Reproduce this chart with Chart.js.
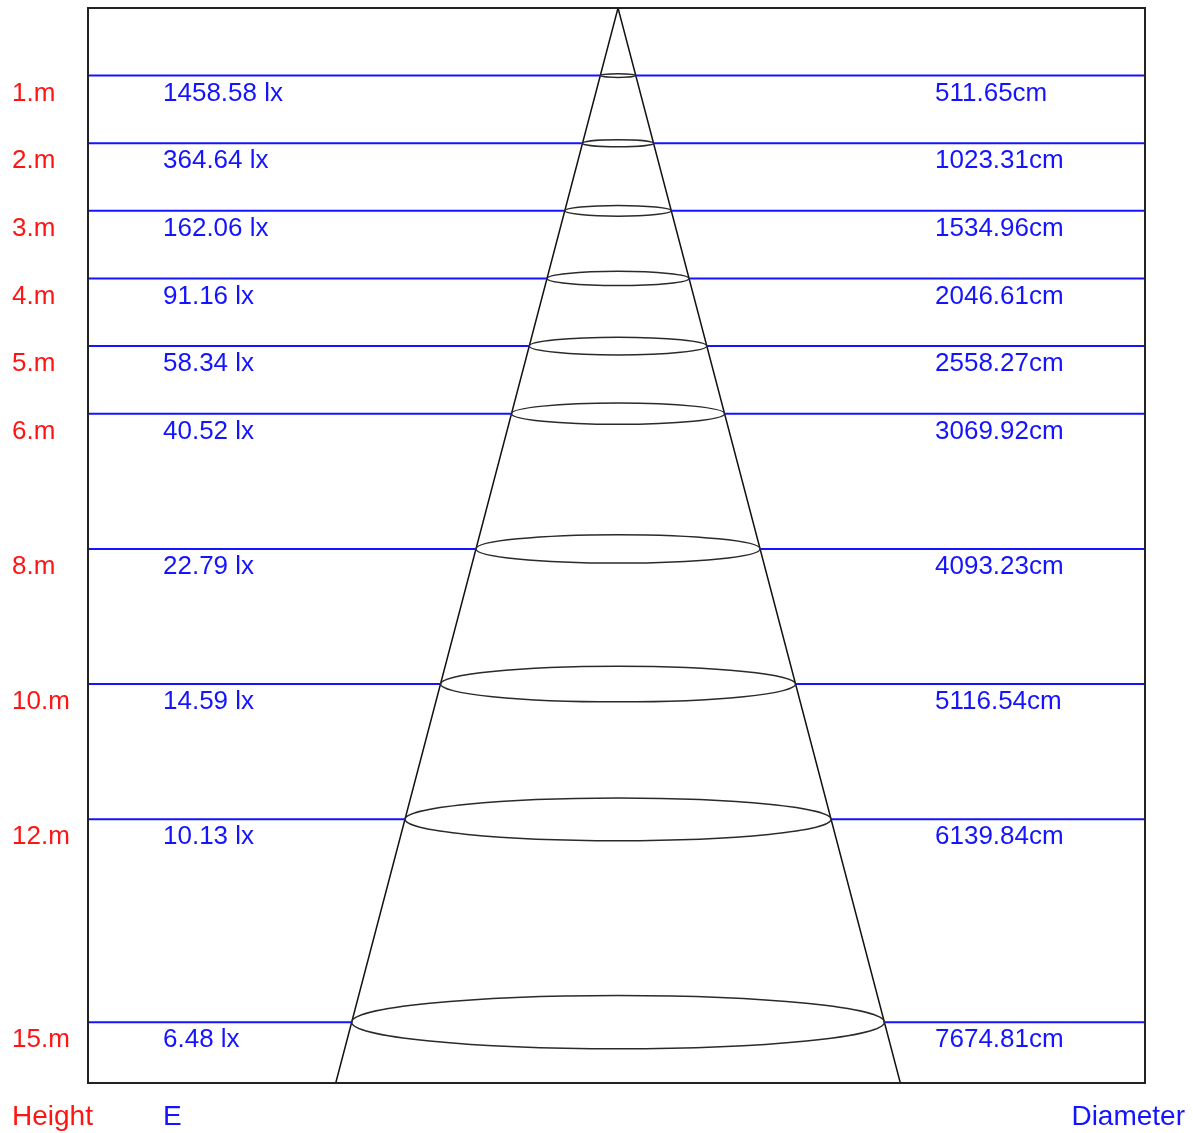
<!DOCTYPE html>
<html>
<head>
<meta charset="utf-8">
<script src="https://cdn.jsdelivr.net/npm/chart.js@4.4.1/dist/chart.umd.min.js"></script>
<style>
  html, body { margin: 0; padding: 0; background: #fff; }
  #wrap { width: 1193px; height: 1133px; }
</style>
</head>
<body>
<div id="wrap"><canvas id="beam"></canvas></div>
<script>
// mounting heights (m), illuminance (lx) and beam diameter (cm)
const heights = [1, 2, 3, 4, 5, 6, 8, 10, 12, 15];
const lux = [1458.58, 364.64, 162.06, 91.16, 58.34, 40.52, 22.79, 14.59, 10.13, 6.48];
const diameters = [511.65, 1023.31, 1534.96, 2046.61, 2558.27, 3069.92, 4093.23, 5116.54, 6139.84, 7674.81];
const heightLabels = heights.map(h => h + ".m");
const luxLabels = lux.map(v => v.toFixed(2) + " lx");
const diameterLabels = diameters.map(v => v.toFixed(2) + "cm");

const X_MIN = -76.37, X_MAX = 75.93;
const Y_MAX = 15.9;

const radius = diameters.map(d => d / 200); // metres
// half-angle of the cone from the last level
const coneR = radius[radius.length - 1] / heights[heights.length - 1] * Y_MAX;

const blue = "#1414ff";
const red = "#ff1414";
const font = "26px 'Liberation Sans', Arial, sans-serif";
const footFont = "28px 'Liberation Sans', Arial, sans-serif";

const datasets = heights.map((h, i) => ({
    data: [{x: X_MIN, y: h}, {x: -radius[i], y: h}, {x: 0, y: null}, {x: radius[i], y: h}, {x: X_MAX, y: h}],
    borderColor: blue,
    borderWidth: 2,
    pointRadius: 0,
    showLine: true,
    spanGaps: false,
}));

datasets.push({
    data: [{x: -coneR, y: Y_MAX}, {x: 0, y: 0}, {x: coneR, y: Y_MAX}],
    borderColor: "#111",
    borderWidth: 1.5,
    pointRadius: 0,
    showLine: true,
});

const beamPlugin = {
    id: "beam",
    afterDatasetsDraw(chart) {
        const {ctx, chartArea, scales: {x, y}} = chart;
        ctx.save();
        // spot ellipses at each level
        ctx.strokeStyle = "#2a2a2a";
        ctx.lineWidth = 1.5;
        heights.forEach((h, i) => {
            const cx = x.getPixelForValue(0);
            const rx = x.getPixelForValue(radius[i]) - cx;
            ctx.beginPath();
            ctx.ellipse(cx, y.getPixelForValue(h), rx, rx * 0.1, 0, 0, Math.PI * 2);
            ctx.stroke();
        });
        // frame
        ctx.strokeStyle = "#222";
        ctx.lineWidth = 2;
        ctx.strokeRect(chartArea.left, chartArea.top, chartArea.right - chartArea.left, chartArea.bottom - chartArea.top);

        // texts
        ctx.font = font;
        ctx.textBaseline = "middle";
        heights.forEach((h, i) => {
            const py = y.getPixelForValue(h) + 18;
            ctx.fillStyle = red;
            ctx.textAlign = "left";
            ctx.fillText(heightLabels[i], 12, py);
            ctx.fillStyle = blue;
            ctx.fillText(luxLabels[i], 163, py);
            ctx.fillText(diameterLabels[i], 935, py);
        });
        const by = chartArea.bottom + 34;
        ctx.font = footFont;
        ctx.fillStyle = red;
        ctx.fillText("Height", 12, by);
        ctx.fillStyle = blue;
        ctx.fillText("E", 163, by);
        ctx.textAlign = "right";
        ctx.fillText("Diameter", 1185, by);
        ctx.restore();
    }
};

new Chart(document.querySelector("#beam"), {
    type: "scatter",
    data: { datasets },
    options: {
        responsive: true,
        maintainAspectRatio: false,
        animation: false,
        layout: {
            padding: {left: 88, top: 8, right: 48, bottom: 50},
        },
        scales: {
            x: { type: "linear", min: X_MIN, max: X_MAX, display: false },
            y: { type: "linear", min: 0, max: Y_MAX, reverse: true, display: false },
        },
        plugins: {
            legend: { display: false },
            tooltip: { enabled: false },
        },
    },
    plugins: [beamPlugin],
});
</script>
</body>
</html>
